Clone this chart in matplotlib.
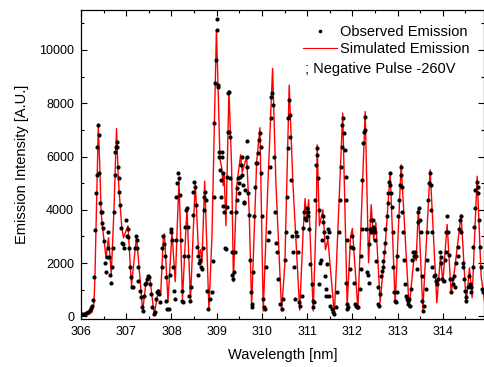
import matplotlib
matplotlib.use("Agg")
import matplotlib.pyplot as plt
from matplotlib.ticker import MultipleLocator
from matplotlib.lines import Line2D

plt.rcParams['font.family'] = ['Liberation Sans', 'DejaVu Sans']

# simulated emission (peak / valley vertices)
sim_x = [306.000, 306.155, 306.243, 306.287, 306.309, 306.331, 306.360, 306.382, 306.420, 306.442,
         306.471, 306.515, 306.552, 306.608, 306.670, 306.729, 306.785, 306.824, 306.862, 306.899,
         306.939, 307.039, 307.116, 307.227, 307.364, 307.436, 307.514, 307.618, 307.713, 307.761,
         307.819, 307.845, 307.923, 308.011, 308.084, 308.166, 308.243, 308.343, 308.420, 308.526,
         308.601, 308.641, 308.674, 308.734, 308.829, 308.895, 308.994, 309.039, 309.072, 309.109,
         309.145, 309.167, 309.204, 309.271, 309.330, 309.370, 309.441, 309.529, 309.565, 309.662,
         309.719, 309.772, 309.845, 309.883, 309.956, 310.029, 310.133, 310.236, 310.309, 310.435,
         310.508, 310.603, 310.685, 310.835, 310.913, 310.955, 310.988, 311.034, 311.134, 311.204,
         311.222, 311.271, 311.348, 311.403, 311.459, 311.602, 311.786, 311.885, 311.960, 312.000,
         312.122, 312.283, 312.358, 312.415, 312.469, 312.519, 312.614, 312.725, 312.835, 312.946,
         313.078, 313.255, 313.352, 313.388, 313.410, 313.459, 313.558, 313.719, 313.867, 313.949,
         314.000, 314.095, 314.183, 314.243, 314.404, 314.515, 314.590, 314.648, 314.758, 314.846,
         314.921]
sim_y = [50, 60, 150, 500, 1500, 3250, 5400, 7150, 5400, 4000,
         3400, 2770, 2200, 2950, 1600, 4000, 7050, 5200, 4250, 3400,
         2950, 3400, 1150, 3000, 200, 1270, 1550, 70, 1000, 800,
         2900, 3100, 550, 3150, 1300, 5130, 650, 4070, 600, 5050,
         2300, 2500, 2000, 5070, 230, 3000, 10750, 8100, 5900, 5600,
         4900, 5300, 3400, 8480, 5600, 1300, 4870, 6070, 5400, 6000,
         3900, 380, 3900, 5800, 7080, 200, 5000, 9310, 5000, 200,
         2000, 8680, 5000, 230, 3260, 4420, 3630, 4380, 200, 4000,
         6440, 3400, 4000, 2500, 2880, 75, 7630, 390, 3000, 3300,
         260, 7690, 2010, 4190, 2880, 3520, 520, 2630, 5380, 510,
         5690, 320, 2020, 2400, 2100, 4050, 260, 5500, 510, 2260,
         1260, 3450, 890, 1510, 3820, 510, 1820, 700, 5260, 1510,
         575]

# observed emission points
obs_x = [306.02, 306.07, 306.11, 306.15, 306.20, 306.22, 306.24, 306.27, 306.29, 306.32,
         306.33, 306.35, 306.36, 306.38, 306.40, 306.40, 306.42, 306.44, 306.46, 306.47,
         306.49, 306.51, 306.53, 306.55, 306.57, 306.59, 306.60, 306.62, 306.64, 306.66,
         306.68, 306.70, 306.73, 306.75, 306.75, 306.77, 306.79, 306.80, 306.82, 306.83,
         306.85, 306.86, 306.88, 306.91, 306.93, 306.96, 306.99, 307.01, 307.03, 307.05,
         307.06, 307.08, 307.10, 307.12, 307.16, 307.19, 307.22, 307.23, 307.24, 307.25,
         307.27, 307.30, 307.33, 307.34, 307.36, 307.39, 307.41, 307.44, 307.47, 307.49,
         307.51, 307.52, 307.55, 307.58, 307.61, 307.64, 307.66, 307.69, 307.71, 307.73,
         307.75, 307.78, 307.80, 307.82, 307.83, 307.86, 307.88, 307.89, 307.91, 307.94,
         307.97, 307.99, 308.00, 308.02, 308.04, 308.06, 308.08, 308.09, 308.11, 308.13,
         308.15, 308.17, 308.18, 308.20, 308.23, 308.24, 308.26, 308.28, 308.30, 308.32,
         308.34, 308.36, 308.37, 308.39, 308.41, 308.43, 308.47, 308.48, 308.50, 308.53,
         308.54, 308.56, 308.58, 308.59, 308.61, 308.64, 308.66, 308.68, 308.70, 308.71,
         308.72, 308.74, 308.76, 308.78, 308.80, 308.85, 308.89, 308.92, 308.94, 308.95,
         308.96, 308.98, 309.00, 309.01, 309.02, 309.04, 309.05, 309.06, 309.07, 309.09,
         309.10, 309.11, 309.12, 309.13, 309.15, 309.17, 309.18, 309.20, 309.22, 309.23,
         309.24, 309.26, 309.27, 309.28, 309.29, 309.30, 309.32, 309.33, 309.34, 309.37,
         309.39, 309.40, 309.43, 309.44, 309.45, 309.48, 309.49, 309.50, 309.51, 309.54,
         309.55, 309.56, 309.59, 309.60, 309.61, 309.63, 309.66, 309.67, 309.68, 309.70,
         309.72, 309.73, 309.75, 309.77, 309.79, 309.81, 309.82, 309.85, 309.87, 309.90,
         309.92, 309.93, 309.96, 309.97, 309.99, 310.01, 310.03, 310.05, 310.07, 310.10,
         310.14, 310.16, 310.18, 310.20, 310.21, 310.23, 310.25, 310.27, 310.29, 310.31,
         310.33, 310.36, 310.40, 310.44, 310.47, 310.51, 310.53, 310.55, 310.57, 310.58,
         310.60, 310.62, 310.63, 310.64, 310.66, 310.69, 310.71, 310.73, 310.75, 310.77,
         310.79, 310.82, 310.84, 310.88, 310.91, 310.93, 310.95, 310.97, 310.99, 311.01,
         311.02, 311.05, 311.06, 311.10, 311.12, 311.13, 311.16, 311.17, 311.19, 311.21,
         311.22, 311.24, 311.26, 311.27, 311.28, 311.30, 311.32, 311.34, 311.36, 311.38,
         311.39, 311.41, 311.42, 311.43, 311.44, 311.47, 311.48, 311.49, 311.50, 311.54,
         311.58, 311.60, 311.64, 311.67, 311.71, 311.72, 311.74, 311.76, 311.78, 311.80,
         311.81, 311.83, 311.85, 311.86, 311.87, 311.86, 311.88, 311.89, 311.91, 311.95,
         311.98, 312.00, 312.02, 312.03, 312.06, 312.08, 312.11, 312.13, 312.17, 312.19,
         312.20, 312.21, 312.22, 312.24, 312.25, 312.28, 312.29, 312.31, 312.33, 312.35,
         312.36, 312.37, 312.39, 312.41, 312.42, 312.45, 312.46, 312.48, 312.50, 312.51,
         312.53, 312.56, 312.57, 312.59, 312.61, 312.63, 312.65, 312.67, 312.68, 312.70,
         312.72, 312.73, 312.76, 312.78, 312.79, 312.81, 312.83, 312.84, 312.85, 312.87,
         312.89, 312.90, 312.92, 312.94, 312.96, 312.98, 312.99, 313.01, 313.03, 313.05,
         313.07, 313.08, 313.09, 313.10, 313.12, 313.14, 313.16, 313.18, 313.20, 313.22,
         313.23, 313.26, 313.27, 313.29, 313.32, 313.34, 313.37, 313.38, 313.40, 313.42,
         313.44, 313.45, 313.47, 313.49, 313.51, 313.53, 313.54, 313.57, 313.59, 313.62,
         313.64, 313.65, 313.68, 313.69, 313.71, 313.73, 313.74, 313.75, 313.77, 313.80,
         313.82, 313.85, 313.87, 313.90, 313.93, 313.96, 313.97, 313.99, 314.02, 314.04,
         314.07, 314.08, 314.10, 314.12, 314.13, 314.16, 314.18, 314.21, 314.23, 314.25,
         314.27, 314.30, 314.33, 314.34, 314.36, 314.38, 314.40, 314.41, 314.44, 314.45,
         314.46, 314.49, 314.51, 314.52, 314.56, 314.58, 314.60, 314.62, 314.63, 314.66,
         314.67, 314.69, 314.71, 314.72, 314.75, 314.77, 314.78, 314.80, 314.82, 314.84,
         314.86, 314.88]
obs_y = [100, 100, 120, 150, 250, 300, 400, 600, 1460, 3250,
         4640, 5320, 6370, 7190, 6820, 5390, 4270, 3930, 3900, 3520,
         3330, 2810, 2020, 1650, 2210, 2580, 3180, 2210, 1570, 1270,
         1870, 2580, 3930, 5320, 6180, 6370, 6550, 6370, 5620, 5210,
         4680, 4190, 3330, 2770, 2700, 2580, 3630, 3000, 3260, 2960,
         2580, 1870, 1460, 1120, 1120, 2580, 3000, 2880, 2580, 1870,
         1310, 940, 710, 340, 190, 750, 1200, 1270, 1390, 1500,
         1460, 1200, 820, 340, 75, 150, 640, 900, 940, 820,
         520, 1870, 2580, 3000, 2700, 2250, 1460, 560, 260, 260,
         1570, 3260, 3150, 2880, 1870, 940, 640, 2880, 4490, 5020,
         5390, 5210, 4570, 2880, 940, 560, 520, 2250, 3370, 4010,
         4080, 3370, 2250, 750, 560, 1120, 3820, 4680, 5060, 4870,
         4190, 2620, 2250, 1570, 2020, 2130, 1870, 1760, 2580, 4010,
         4490, 4680, 4380, 940, 260, 640, 900, 2060, 4490, 7270,
         8760, 9630, 10750, 11160, 8690, 8610, 5990, 6180, 5510, 5130,
         4490, 5990, 6180, 5390, 4160, 3900, 2580, 2510, 4120, 5240,
         6930, 8390, 8430, 6930, 6740, 5210, 3900, 2400, 1570, 1390,
         1650, 2400, 3900, 4380, 4830, 5210, 5020, 4640, 5240, 5690,
         5990, 5320, 4940, 4310, 4270, 4760, 5990, 6590, 5620, 4640,
         3820, 2130, 900, 450, 340, 1650, 3750, 4870, 5770, 5770,
         6140, 6630, 6890, 6370, 5390, 3750, 640, 340, 260, 1870,
         2880, 3180, 5620, 7450, 8240, 8390, 7940, 5990, 3900, 2770,
         2430, 1390, 450, 260, 640, 2130, 3150, 4490, 6330, 7450,
         8130, 7570, 6740, 5130, 3000, 2430, 1870, 640, 3150, 3000,
         2430, 520, 370, 750, 3330, 3900, 3710, 3630, 4080, 3900,
         3750, 3260, 1950, 1200, 560, 340, 520, 4380, 5690, 6070,
         6330, 5210, 4010, 1200, 2020, 2130, 2880, 3750, 3560, 3150,
         1500, 750, 1010, 1950, 2960, 3260, 3150, 750, 370, 260,
         150, 75, 340, 900, 3150, 4380, 5620, 6370, 7190, 7450,
         6890, 6250, 5240, 4380, 2880, 1270, 450, 260, 340, 1760,
         2620, 3000, 2580, 1270, 450, 370, 340, 340, 1010, 1760,
         2250, 3260, 5130, 6520, 6930, 7000, 7490, 3260, 1650, 1570,
         1270, 2700, 3260, 3630, 3150, 3370, 3630, 3260, 3150, 2880,
         2060, 1120, 450, 370, 820, 1500, 1690, 1870, 2060, 2400,
         2770, 3260, 3750, 4270, 4640, 5060, 5390, 4940, 4640, 4120,
         3150, 1870, 900, 560, 520, 900, 2250, 3750, 4380, 4940,
         5320, 5620, 4870, 3900, 3150, 2130, 1200, 750, 640, 560,
         450, 640, 370, 1010, 2130, 2400, 2250, 2400, 2250, 1760,
         3560, 3900, 4080, 3630, 3150, 1500, 560, 190, 370, 1010,
         2130, 3150, 4380, 5020, 5390, 4940, 4010, 3150, 1870, 1500,
         1570, 1310, 1200, 1390, 2400, 2210, 2020, 1390, 1310, 2130,
         2400, 3180, 3750, 3150, 2320, 1390, 900, 1390, 1200, 1500,
         1120, 2020, 2250, 2620, 3260, 3630, 3750, 3150, 2020, 1870,
         1390, 940, 560, 710, 1120, 1500, 1200, 900, 1090, 1870,
         2620, 3370, 4080, 4760, 5060, 4870, 4640, 3630, 2620, 1870,
         1010, 900]

labels = ["Observed Emission", "Simulated Emission"]
note = "; Negative Pulse -260V"

fig = plt.figure(figsize=(4.85, 3.67), dpi=100)
ax = fig.add_axes([81/485, 1 - 319/367, 403/485, 309/367])

ax.plot(sim_x, sim_y, color='#ff0000', lw=1.0, zorder=2)
ax.plot(obs_x, obs_y, 'o', color='black', ms=3.0, mew=0, zorder=3)

ax.set_xlim(306, 314.91)
ax.set_ylim(-100, 11500)
ax.xaxis.set_major_locator(MultipleLocator(1))
ax.xaxis.set_minor_locator(MultipleLocator(0.5))
ax.yaxis.set_major_locator(MultipleLocator(2000))
ax.yaxis.set_minor_locator(MultipleLocator(1000))
ax.tick_params(which='both', direction='in', top=True, right=True, width=0.8, labelsize=9)
ax.tick_params(which='major', length=4, pad=5)
ax.tick_params(which='minor', length=2.2)
for s in ax.spines.values():
    s.set_linewidth(0.9)

ax.set_xlabel("Wavelength [nm]", fontsize=10.5, labelpad=7)
ax.set_ylabel("Emission Intensity [A.U.]", fontsize=10.5, labelpad=7)

handles = [Line2D([], [], ls='none', marker='o', color='black', ms=2.6, mew=0),
           Line2D([], [], color='#ff0000', lw=0.8)]
ax.legend(handles, labels, loc='upper left', bbox_to_anchor=(0.551, 0.950),
          frameon=False, fontsize=10.5, borderaxespad=0, borderpad=0,
          handlelength=2.3, handletextpad=0.25, labelspacing=0.2)
ax.text(0.556, 0.808, note, transform=ax.transAxes, fontsize=10.5, va='center', ha='left')

fig.savefig("out.png", dpi=100)
